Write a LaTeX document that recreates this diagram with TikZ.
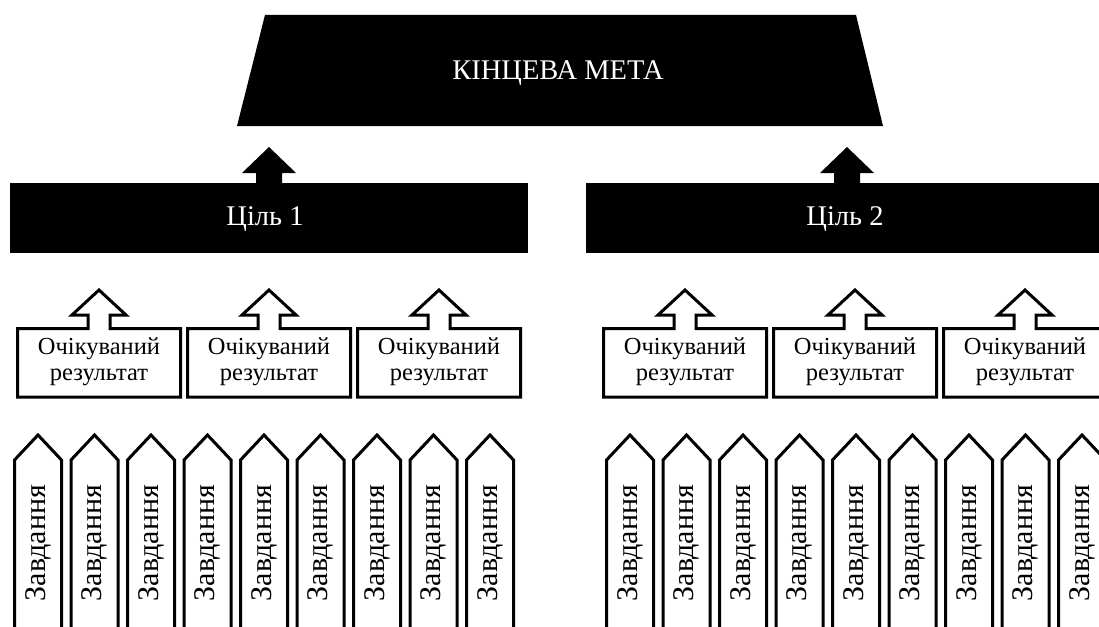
\documentclass[tikz,border=0pt]{standalone}
\usepackage{fontspec}
\setmainfont{Liberation Serif}
\begin{document}
\begin{tikzpicture}[x=1pt,y=-1pt,
  outl/.style={draw=black,line width=3pt,fill=white,line join=miter},
  whitelbl/.style={text=white,font=\fontsize{28.5}{32}\selectfont,inner sep=0},
  reslbl/.style={font=\fontsize{24.5}{26}\selectfont,align=center,inner sep=0},
  tasklbl/.style={font=\fontsize{30}{32}\selectfont,rotate=90,inner sep=0}]
\useasboundingbox (0,0) rectangle (1099,626);
\clip (0,0) rectangle (1099,626);
% final goal trapezoid
\fill (265,15) -- (856,15) -- (883,126) -- (237,126) -- cycle;
\node[whitelbl] (meta) at (558,73) {КІНЦЕВА МЕТА};
% goals
\fill (10,183) rectangle (528,253);
\node[whitelbl] (goal1) at (265,219) {Ціль 1};
\fill (586,183) rectangle (1108,253);
\node[whitelbl] (goal2) at (845,219) {Ціль 2};
% black arrows
\foreach \c in {269,847}{
  \fill (\c-13,184) -- (\c-13,173) -- (\c-27,173) -- (\c,147) -- (\c+27,173) -- (\c+13,173) -- (\c+13,184) -- cycle;
}
% expected results
\foreach \c [count=\k] in {99,269,439,685,855,1025}{
  \draw[outl] (\c-81.5,397) -- (\c-81.5,328.5) -- (\c-11,328.5) -- (\c-11,315) -- (\c-27,315) -- (\c,290) -- (\c+27,315) -- (\c+11,315) -- (\c+11,328.5) -- (\c+81.5,328.5) -- (\c+81.5,397) -- cycle;
  \node[reslbl] (res\k) at (\c,362) {Очікуваний\\результат};
}
% tasks
\foreach \s/\g in {14.5/a,606.5/b}{
  \foreach \i in {0,...,8}{
    \pgfmathsetmacro{\xl}{\s+56.5*\i}
    \draw[outl] (\xl,640) -- (\xl,460) -- (\xl+23.5,435) -- (\xl+47,460) -- (\xl+47,640);
    \node[tasklbl] (task\g\i) at (\xl+23.5,543) {Завдання};
  }
}
\end{tikzpicture}
\end{document}
